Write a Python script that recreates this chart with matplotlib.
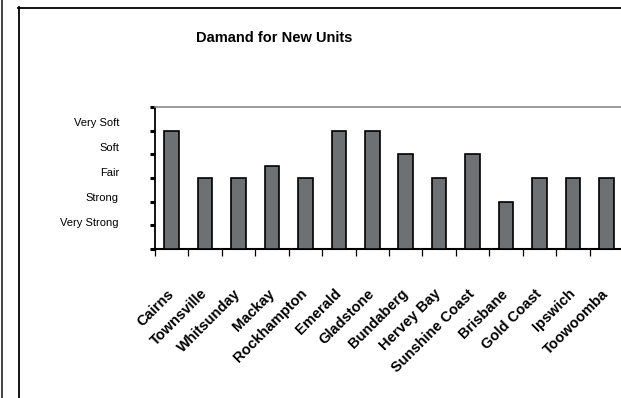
import matplotlib
matplotlib.use("Agg")
import matplotlib.pyplot as plt
from matplotlib import font_manager
from matplotlib.lines import Line2D
import matplotlib.transforms as mtransforms
import numpy as np

# Data
regions = ["Cairns", "Townsville", "Whitsunday", "Mackay", "Rockhampton",
           "Emerald", "Gladstone", "Bundaberg", "Hervey Bay", "Sunshine Coast",
           "Brisbane", "Gold Coast", "Ipswich", "Toowoomba"]
demand = [5, 3, 3, 3.5, 3, 5, 5, 4, 3, 4, 2, 3, 3, 3]
level_names = ["Very Strong", "Strong", "Fair", "Soft", "Very Soft"]
level_values = [1, 2, 3, 4, 5]
title = "Damand for New Units"


def pick_font(names):
    for name in names:
        try:
            font_manager.findfont(font_manager.FontProperties(family=name),
                                  fallback_to_default=False)
            return name
        except Exception:
            continue
    return "DejaVu Sans"


narrow = pick_font(["Liberation Sans Narrow", "Liberation Sans", "Arial"])

W, H = 621, 398
fig = plt.figure(figsize=(W / 100, H / 100), dpi=100)

# Outer frame lines
fig.add_artist(Line2D([1.5 / W, 1.5 / W], [0, 1], color="#222222", lw=1.2))
fig.add_artist(Line2D([18.5 / W, 18.5 / W], [0, 1 - 7 / H], color="black", lw=1.3))
fig.add_artist(Line2D([18 / W, 1], [1 - 7.5 / H, 1 - 7.5 / H], color="black", lw=1.3))

fig.text(274 / W, 1 - 38 / H, title, ha="center", va="center",
         fontsize=10.5, fontweight="bold", family=narrow)

ax = fig.add_axes([155 / W, 1 - 249 / H, (623 - 155) / W, (249 - 107) / H])
x = np.arange(len(regions))
ax.bar(x, demand, width=0.44, color="#6e7174", edgecolor="black", linewidth=1.2,
       zorder=3)
ax.set_xlim(-0.5, len(regions) - 0.5)
ax.set_ylim(0, 6)

# Spines
ax.spines["right"].set_visible(False)
ax.spines["top"].set_color("#8a8a8a")
ax.spines["top"].set_linewidth(1.2)
ax.spines["left"].set_color("black")
ax.spines["left"].set_linewidth(1.3)
ax.spines["bottom"].set_color("black")
ax.spines["bottom"].set_linewidth(1.5)

# Y axis: heavy tick marks at integer steps, level names as unmarked labels
ax.set_yticks(range(0, 7))
ax.set_yticklabels([])
ax.tick_params(axis="y", which="major", length=3.5, width=2.2, color="black",
               direction="out")
ax.set_yticks([v * 1.06 + 0.06 for v in level_values], minor=True)
ax.set_yticklabels(level_names, minor=True, fontsize=8, family=narrow)
ax.tick_params(axis="y", which="minor", length=0, pad=26)

# X axis: ticks between categories, rotated labels at category centres
ax.set_xticks(np.arange(len(regions) + 1) - 0.5)
ax.set_xticklabels([])
ax.tick_params(axis="x", which="major", length=5, width=0.9, color="black",
               direction="out")
ax.set_xticks(x, minor=True)
ax.set_xticklabels(regions, minor=True, rotation=45, ha="right", va="top",
                   rotation_mode="anchor", fontsize=10.5, fontweight="bold",
                   family=narrow)
ax.tick_params(axis="x", which="minor", length=0, pad=27)
shift = mtransforms.ScaledTranslation(-5 / 100, 0, fig.dpi_scale_trans)
for lbl in ax.get_xticklabels(minor=True):
    lbl.set_transform(lbl.get_transform() + shift)

fig.savefig("out.png", dpi=100)
